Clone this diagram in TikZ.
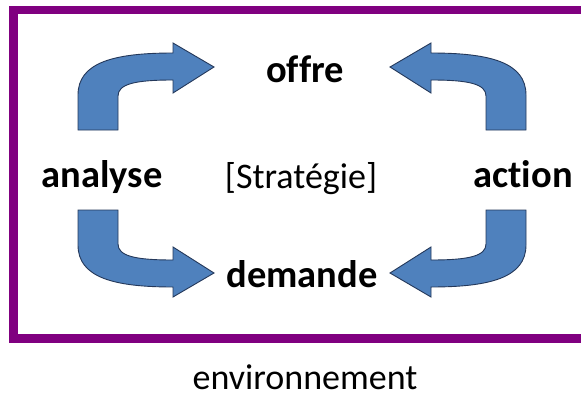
\documentclass[tikz,border=0pt]{standalone}
\usepackage{fontspec}
\setmainfont[Ligatures=NoCommon]{Carlito}
\begin{document}
\begin{tikzpicture}[x=1pt,y=-1pt,
  frame/.style={draw={rgb,255:red,128;green,0;blue,128},line width=8.5pt},
  blockarrow/.style={fill={rgb,255:red,79;green,129;blue,189},draw={rgb,255:red,36;green,56;blue,90},line width=0.9pt,line join=miter},
  label/.style={font=\fontsize{38.5}{42}\selectfont\bfseries,anchor=base,inner sep=0pt},
  plain/.style={font=\fontsize{36}{40}\selectfont,anchor=base,inner sep=0pt},
  bent/.pic={
    \path[blockarrow] (-224,-40) -- (-224,-75)
      .. controls (-224,-108) and (-187,-117) .. (-129,-117)
      -- (-129,-127) -- (-88,-103) -- (-129,-77) -- (-129,-90)
      .. controls (-167,-90) and (-184,-86) .. (-184,-74)
      -- (-184,-40) -- cycle;
  }]
\useasboundingbox (0,0) rectangle (581,399);
% environment frame (right side runs off the page)
\draw[frame] (13.5,10) rectangle (592,338.5);
% four curved block arrows around the centre
\pic at (302,170) {bent};
\pic[xscale=-1] at (302,170) {bent};
\pic[yscale=-1] at (302,170) {bent};
\pic[xscale=-1,yscale=-1] at (302,170) {bent};
% labels
\node[label] (offre) at (305,82) {offre};
\node[label] (demande) at (302,287) {demande};
\node[label] (analyse) at (102,187) {analyse};
\node[label] (action) at (523,187) {action};
\node[plain] (strategie) at (301,188) {[Stratégie]};
\node[plain] (env) at (305,389) {environnement};
\end{tikzpicture}
\end{document}
